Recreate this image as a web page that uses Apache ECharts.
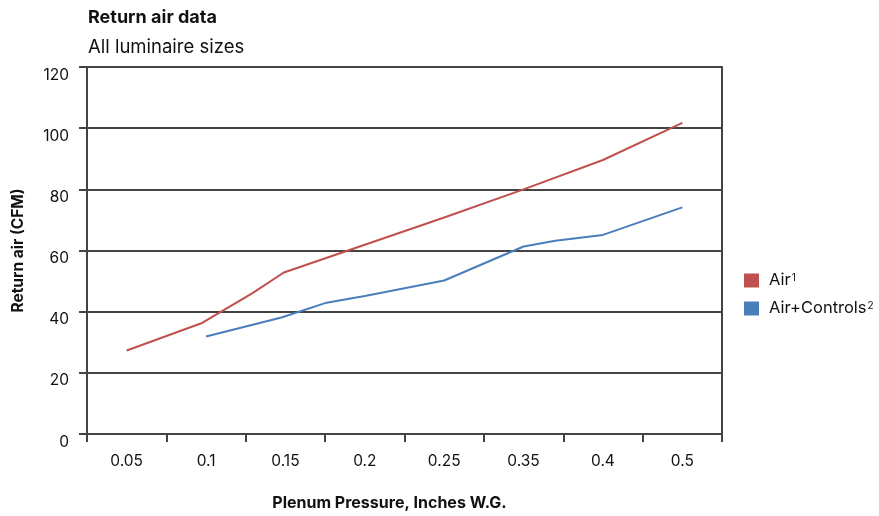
<!DOCTYPE html>
<html>
<head>
<meta charset="utf-8">
<script src="https://cdn.jsdelivr.net/npm/echarts@6/dist/echarts.min.js"></script>
<style>
html,body{margin:0;padding:0;background:#fff;}
#chart{width:879px;height:516px;}
</style>
</head>
<body>
<div id="chart"></div>
<script>
// Category labels of the x axis
const categories = ['0.05', '0.1', '0.15', '0.2', '0.25', '0.35', '0.4', '0.5'];
// Y tick values
const yTicks = [0, 20, 40, 60, 80, 100, 120];
// Series: [category position (index, fractional where a point sits between labels), CFM]
const airData = [[0, 27.3], [0.95, 36.3], [1.58, 46.0], [1.98, 52.8], [3, 61.9], [4, 70.8], [5, 80.0], [6, 89.6], [7, 101.7]];
const airControlsData = [[1, 31.9], [1.95, 38.1], [2.5, 42.8], [3, 45.1], [4, 50.2], [5, 61.3], [5.4, 63.2], [6, 65.1], [7, 74.1]];

const FONT = 'Inter, "Noto Sans", sans-serif';
const AXIS = '#444';

const chart = echarts.init(document.getElementById('chart'));
chart.setOption({
  animation: false,
  textStyle: { fontFamily: FONT, color: '#111' },
  title: {
    text: 'Return air data',
    subtext: 'All luminaire sizes',
    left: 88,
    top: 7,
    padding: 0,
    itemGap: 7,
    textStyle: { fontFamily: FONT, fontSize: 18, fontWeight: 'bold', color: '#111', lineHeight: 22 },
    subtextStyle: { fontFamily: FONT, fontSize: 18.5, color: '#111', lineHeight: 22 }
  },
  legend: {
    orient: 'vertical',
    left: 739,
    top: 267,
    itemWidth: 15,
    itemHeight: 14,
    itemGap: 11,
    icon: 'rect',
    data: ['Air', 'Air+Controls'],
    formatter: function (name) { return name === 'Air' ? 'Air{sup|1}' : 'Air+Controls{sup|2}'; },
    textStyle: {
      fontFamily: FONT, fontSize: 16.5, color: '#111', lineHeight: 16, padding: [0, 0, 0, 5],
      rich: { sup: { fontSize: 10, verticalAlign: 'top', lineHeight: 10, padding: [0, 0, 6, 1], fontFamily: FONT, color: '#111' } }
    }
  },
  grid: { left: 87, right: 157, top: 67, bottom: 82, containLabel: false },
  xAxis: [
    {
      type: 'category',
      data: categories,
      boundaryGap: true,
      name: 'Plenum Pressure, Inches W.G.',
      nameLocation: 'middle',
      nameGap: 61,
      nameTextStyle: { fontFamily: FONT, fontSize: 16, fontWeight: 'bold', color: '#111', padding: [0, 30, 0, 0] },
      axisLine: { show: true, onZero: false, lineStyle: { color: AXIS, width: 2 } },
      axisTick: { show: true, length: 8, lineStyle: { color: AXIS, width: 2 }, alignWithLabel: false },
      axisLabel: { fontFamily: FONT, fontSize: 15.5, color: '#111', margin: 19 },
      splitLine: { show: false }
    },
    {
      type: 'value',
      min: -0.5,
      max: 7.5,
      show: false
    }
  ],
  yAxis: [
    {
      type: 'value',
      min: yTicks[0],
      max: yTicks[yTicks.length - 1],
      interval: 20,
      name: 'Return air (CFM)',
      nameLocation: 'middle',
      nameGap: 61,
      nameRotate: 90,
      nameTextStyle: { fontFamily: FONT, fontSize: 15.5, fontWeight: 'bold', color: '#111' },
      axisLine: { show: true, onZero: false, lineStyle: { color: AXIS, width: 2 } },
      axisTick: { show: true, length: 8, lineStyle: { color: AXIS, width: 2 } },
      axisLabel: { fontFamily: FONT, fontSize: 15.5, color: '#111', margin: 18, verticalAlign: 'top', padding: [0, 0, 0, 0] },
      splitLine: { show: true, lineStyle: { color: AXIS, width: 2 } }
    },
    {
      type: 'value',
      position: 'right',
      min: 0,
      max: 120,
      interval: 20,
      axisLine: { show: true, onZero: false, lineStyle: { color: AXIS, width: 2 } },
      axisTick: { show: false },
      axisLabel: { show: false },
      splitLine: { show: false }
    }
  ],
  series: [
    {
      name: 'Air',
      type: 'line',
      xAxisIndex: 1,
      yAxisIndex: 0,
      data: airData,
      showSymbol: false,
      symbol: 'none',
      color: '#c0504d',
      lineStyle: { width: 2, color: '#c0504d' }
    },
    {
      name: 'Air+Controls',
      type: 'line',
      xAxisIndex: 1,
      yAxisIndex: 0,
      data: airControlsData,
      showSymbol: false,
      symbol: 'none',
      color: '#4a7ebb',
      lineStyle: { width: 2, color: '#4a7ebb' }
    }
  ]
});
</script>
</body>
</html>
